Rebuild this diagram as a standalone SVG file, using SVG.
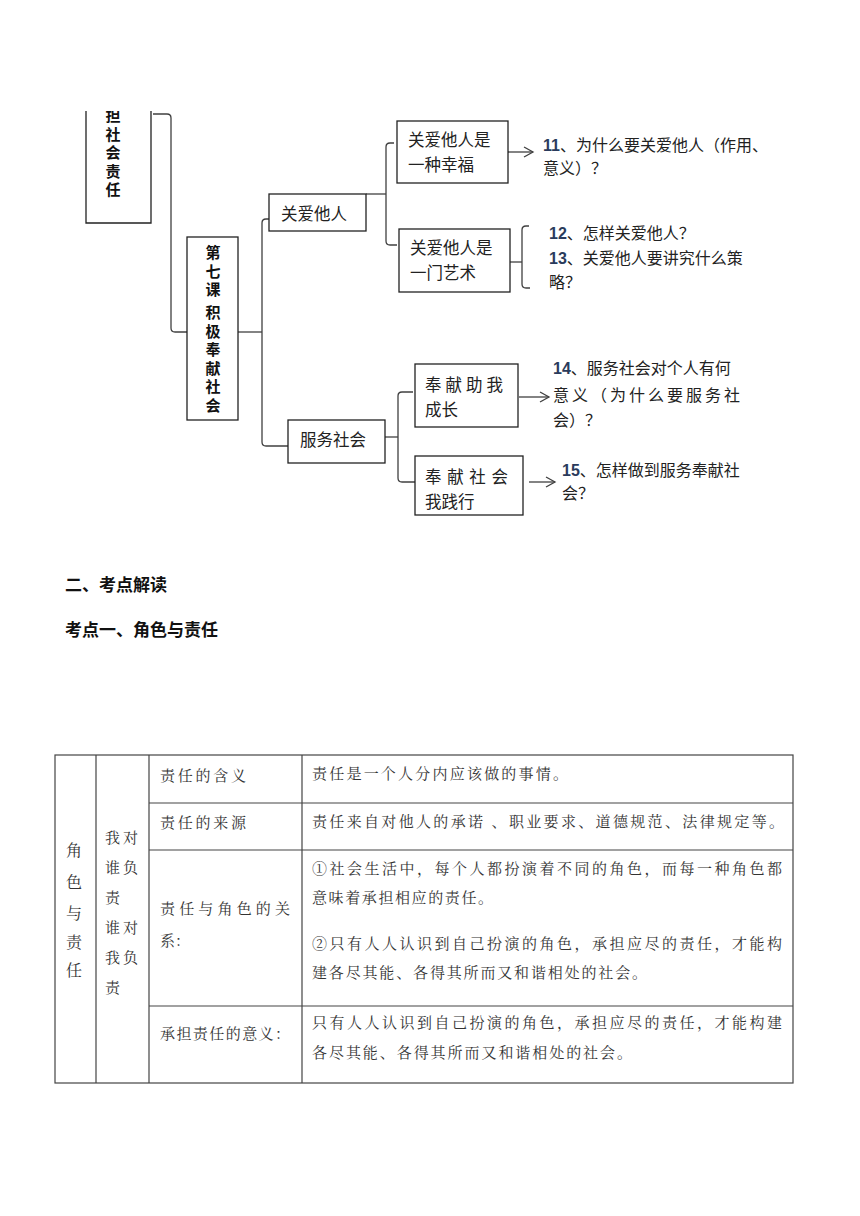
<svg xmlns="http://www.w3.org/2000/svg" width="860" height="1216" viewBox="0 0 860 1216">
<style>
.box{fill:#fff;stroke:#222;stroke-width:1.3}
.con{fill:none;stroke:#404040;stroke-width:1.3}
.t{font-family:"Microsoft YaHei","Noto Sans CJK SC",sans-serif;font-size:16.5px;fill:#222}
.v{font-family:"Noto Sans CJK SC",sans-serif;font-size:15px;font-weight:bold;fill:#111;writing-mode:vertical-rl;letter-spacing:3.5px}
.q{font-family:"Noto Sans CJK SC",sans-serif;font-size:16px;fill:#222}
.n{font-family:"Liberation Sans","Noto Sans",sans-serif;font-weight:bold;fill:#2a3b5c}
.h{font-family:"Noto Sans CJK SC",sans-serif;font-size:17px;font-weight:bold;fill:#111}
.tb{font-family:"Noto Serif CJK SC","Noto Sans CJK SC",serif;font-size:15px;fill:#333}
.tv{font-family:"Noto Serif CJK SC","Noto Sans CJK SC",serif;font-size:16px;fill:#333;text-anchor:middle}
.grid{stroke:#444;stroke-width:1.2;fill:none}
</style>
<defs>
<marker id="ah" markerWidth="12" markerHeight="12" refX="10" refY="6" orient="auto" markerUnits="userSpaceOnUse">
<path d="M1,1 L10,6 L1,11" fill="none" stroke="#404040" stroke-width="1.3"/>
</marker>
<clipPath id="clipTop"><rect x="0" y="111" width="860" height="1105"/></clipPath>
</defs>
<rect width="860" height="1216" fill="#fff"/>

<g id="connectors">
<path class="con" d="M153,114 H167 Q171,114 171,118 V328 Q171,332 175,332 H187"/>
<path class="con" d="M238,332 H262"/>
<path class="con" d="M269,219 H266 Q262,219 262,223 V442 Q262,446 266,446 H288"/>
<path class="con" d="M366,194 H386"/>
<path class="con" d="M394,143 H390 Q386,143 386,147 V241 Q386,245 390,245 H397"/>
<path class="con" d="M510,262 H522"/>
<path class="con" d="M529,226 H526 Q522,226 522,230 V284 Q522,288 526,288 H530"/>
<path class="con" d="M385,437 H398"/>
<path class="con" d="M413,392 H402 Q398,392 398,396 V478 Q398,482 402,482 H415"/>
<path class="con" d="M508,152 H533" marker-end="url(#ah)"/>
<path class="con" d="M519,397 H549" marker-end="url(#ah)"/>
<path class="con" d="M529,482 H555" marker-end="url(#ah)"/>
</g>

<g id="node-chapter" clip-path="url(#clipTop)">
<path class="box" d="M86,100 V223 H151 V100"/>
<text class="v" x="113" y="108">担社会责任</text>
</g>

<g id="node-lesson7">
<rect class="box" x="187" y="237" width="51" height="183"/>
<text class="v" x="213" y="245">第七课</text>
<text class="v" x="213" y="305">积极奉献社会</text>
</g>

<g id="node-guanai">
<rect class="box" x="269" y="194" width="97" height="37"/>
<text class="t" x="281" y="220">关爱他人</text>
</g>

<g id="node-xingfu">
<rect class="box" x="397" y="121" width="111" height="62"/>
<text class="t" x="408" y="146">关爱他人是</text>
<text class="t" x="408" y="171">一种幸福</text>
</g>

<g id="node-yishu">
<rect class="box" x="399" y="229" width="111" height="63"/>
<text class="t" x="410" y="254">关爱他人是</text>
<text class="t" x="410" y="279">一门艺术</text>
</g>

<g id="node-fuwu">
<rect class="box" x="288" y="420" width="97" height="43"/>
<text class="t" x="300" y="446">服务社会</text>
</g>

<g id="node-chengzhang">
<rect class="box" x="415" y="364" width="103" height="63"/>
<text class="t" x="425" y="391" textLength="78" lengthAdjust="spacing">奉献助我</text>
<text class="t" x="425" y="416">成长</text>
</g>

<g id="node-jianxing">
<rect class="box" x="415" y="456" width="108" height="59"/>
<text class="t" x="425" y="483" textLength="83" lengthAdjust="spacing">奉献社会</text>
<text class="t" x="425" y="508">我践行</text>
</g>

<g id="q11">
<text class="q" x="543" y="151"><tspan class="n">11</tspan>、为什么要关爱他人（作用、</text>
<text class="q" x="543" y="174">意义）？</text>
</g>
<g id="q12-13">
<text class="q" x="549" y="239"><tspan class="n">12</tspan>、怎样关爱他人？</text>
<text class="q" x="549" y="264"><tspan class="n">13</tspan>、关爱他人要讲究什么策</text>
<text class="q" x="549" y="288">略？</text>
</g>
<g id="q14">
<text class="q" x="553" y="374"><tspan class="n">14</tspan>、服务社会对个人有何</text>
<text class="q" x="553" y="401" textLength="187" lengthAdjust="spacing">意义（为什么要服务社</text>
<text class="q" x="553" y="426">会）？</text>
</g>
<g id="q15">
<text class="q" x="562" y="476"><tspan class="n">15</tspan>、怎样做到服务奉献社</text>
<text class="q" x="562" y="499">会？</text>
</g>

<g id="headings">
<text class="h" x="65" y="591">二、考点解读</text>
<text class="h" x="65" y="636">考点一、角色与责任</text>
</g>

<g id="table">
<rect class="grid" x="55" y="755" width="738" height="328"/>
<line class="grid" x1="96" y1="755" x2="96" y2="1083"/>
<line class="grid" x1="149" y1="755" x2="149" y2="1083"/>
<line class="grid" x1="302" y1="755" x2="302" y2="1083"/>
<line class="grid" x1="149" y1="803" x2="793" y2="803"/>
<line class="grid" x1="149" y1="850" x2="793" y2="850"/>
<line class="grid" x1="149" y1="1006" x2="793" y2="1006"/>

<text class="tv" x="74" y="856">角</text>
<text class="tv" x="74" y="888">色</text>
<text class="tv" x="74" y="919">与</text>
<text class="tv" x="74" y="948">责</text>
<text class="tv" x="74" y="976">任</text>
<text class="tb" x="105" y="843" textLength="33" lengthAdjust="spacing">我对</text>
<text class="tb" x="105" y="873" textLength="33" lengthAdjust="spacing">谁负</text>
<text class="tb" x="105" y="903">责</text>
<text class="tb" x="105" y="933" textLength="33" lengthAdjust="spacing">谁对</text>
<text class="tb" x="105" y="963" textLength="33" lengthAdjust="spacing">我负</text>
<text class="tb" x="105" y="993">责</text>

<text class="tb" x="160" y="781" textLength="86" lengthAdjust="spacing">责任的含义</text>
<text class="tb" x="160" y="828" textLength="86" lengthAdjust="spacing">责任的来源</text>
<text class="tb" x="160" y="914" textLength="130" lengthAdjust="spacing">责任与角色的关</text>
<text class="tb" x="160" y="946">系：</text>
<text class="tb" x="160" y="1039" textLength="130" lengthAdjust="spacing">承担责任的意义：</text>

<text class="tb" x="312" y="779" textLength="256" lengthAdjust="spacing">责任是一个人分内应该做的事情。</text>
<text class="tb" x="312" y="827" textLength="472" lengthAdjust="spacing">责任来自对他人的承诺 、职业要求、道德规范、法律规定等。</text>
<text class="tb" x="312" y="874" textLength="470" lengthAdjust="spacing">①社会生活中，每个人都扮演着不同的角色，而每一种角色都</text>
<text class="tb" x="312" y="903" textLength="181" lengthAdjust="spacing">意味着承担相应的责任。</text>
<text class="tb" x="312" y="949" textLength="470" lengthAdjust="spacing">②只有人人认识到自己扮演的角色，承担应尽的责任，才能构</text>
<text class="tb" x="312" y="978" textLength="335" lengthAdjust="spacing">建各尽其能、各得其所而又和谐相处的社会。</text>
<text class="tb" x="312" y="1028" textLength="470" lengthAdjust="spacing">只有人人认识到自己扮演的角色，承担应尽的责任，才能构建</text>
<text class="tb" x="312" y="1058" textLength="320" lengthAdjust="spacing">各尽其能、各得其所而又和谐相处的社会。</text>
</g>
</svg>
